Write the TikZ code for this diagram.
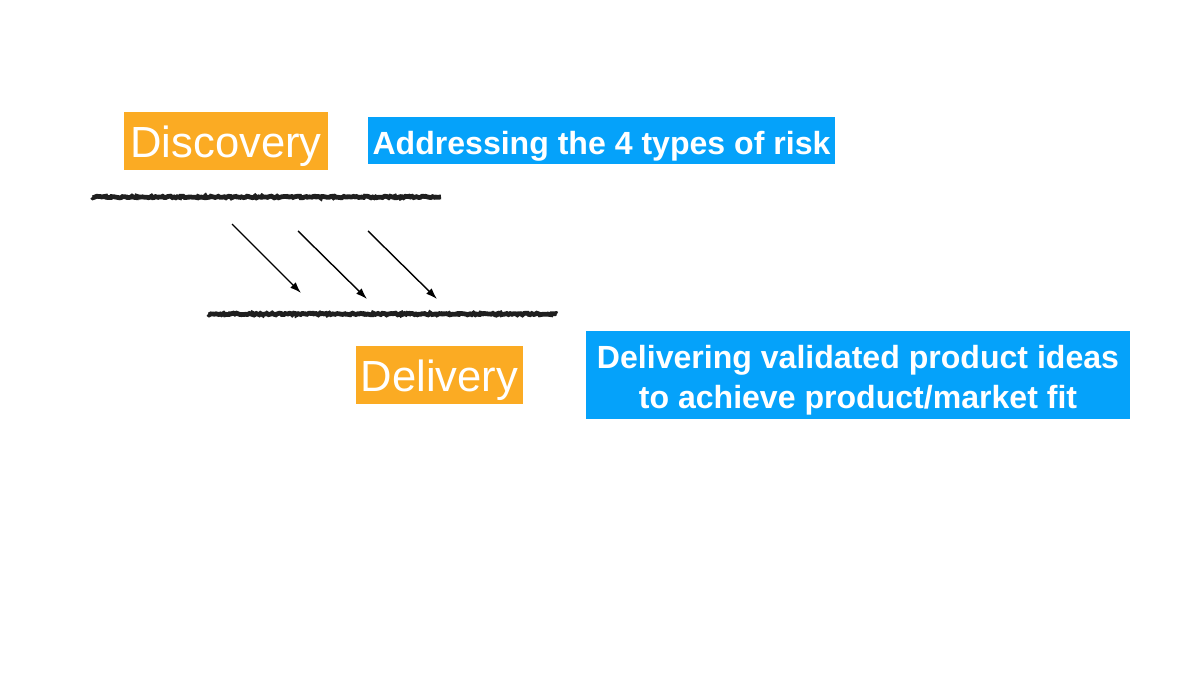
\documentclass[tikz,border=0pt]{standalone}
\usepackage{fontspec}
\setmainfont{Liberation Sans}
\usepackage{xcolor}
\definecolor{PhaseOrange}{HTML}{FBAB23}
\definecolor{NoteBlue}{HTML}{05A2FA}
\usetikzlibrary{arrows.meta, decorations.pathmorphing}
\newcommand{\lowered}[1]{\raisebox{-4pt}[\height][\depth]{#1}}

\begin{document}
\begin{tikzpicture}[x=0.025cm, y=-0.025cm, >={Latex[length=8pt,width=5.5pt]},
  phase/.style={rectangle, fill=PhaseOrange, text=white, inner sep=0pt,
                minimum height=1.45cm, font=\fontsize{31}{34}\selectfont},
  note/.style={rectangle, fill=NoteBlue, text=white, inner sep=0pt, align=center,
               font=\bfseries\fontsize{22.8}{28.5}\selectfont},
  bar/.style={line width=3.4pt, color=black!88,
              decorate, decoration={random steps, segment length=1.2pt, amplitude=0.6pt}},
  arr/.style={->, line width=1pt}
]
\useasboundingbox (0,0) rectangle (1186,676);

%% ---- Discovery row ----
\node[phase, minimum width=5.1cm]  (discovery) at (226,141) {\lowered{Discovery}};
\node[note, minimum width=11.675cm, minimum height=1.175cm] (risk) at (601.5,140.5)
  {\lowered{Addressing the 4 types of risk}};

%% ---- Track lines ----
\coordinate (discA) at (92,197);
\coordinate (discB) at (441,197);
\coordinate (delA)  at (208,314);
\coordinate (delB)  at (557,314);
\draw[bar] (discA) -- (discB);
\draw[bar] (delA) -- (delB);

%% ---- Hand-off arrows ----
\coordinate (s1) at (232,224);  \coordinate (e1) at (301,293);
\coordinate (s2) at (298,231);  \coordinate (e2) at (367,299);
\coordinate (s3) at (368,231);  \coordinate (e3) at (437,299);
\draw[arr] (s1) -- (e1);
\draw[arr] (s2) -- (e2);
\draw[arr] (s3) -- (e3);

%% ---- Delivery row ----
\node[phase, minimum width=4.175cm] (delivery) at (439.5,375) {\lowered{Delivery}};
\node[note, minimum width=13.6cm, minimum height=2.2cm] (fit) at (858,375)
  {\lowered{\begin{tabular}{@{}c@{}}Delivering validated product ideas\\to achieve product/market fit\end{tabular}}};

\end{tikzpicture}
\end{document}
